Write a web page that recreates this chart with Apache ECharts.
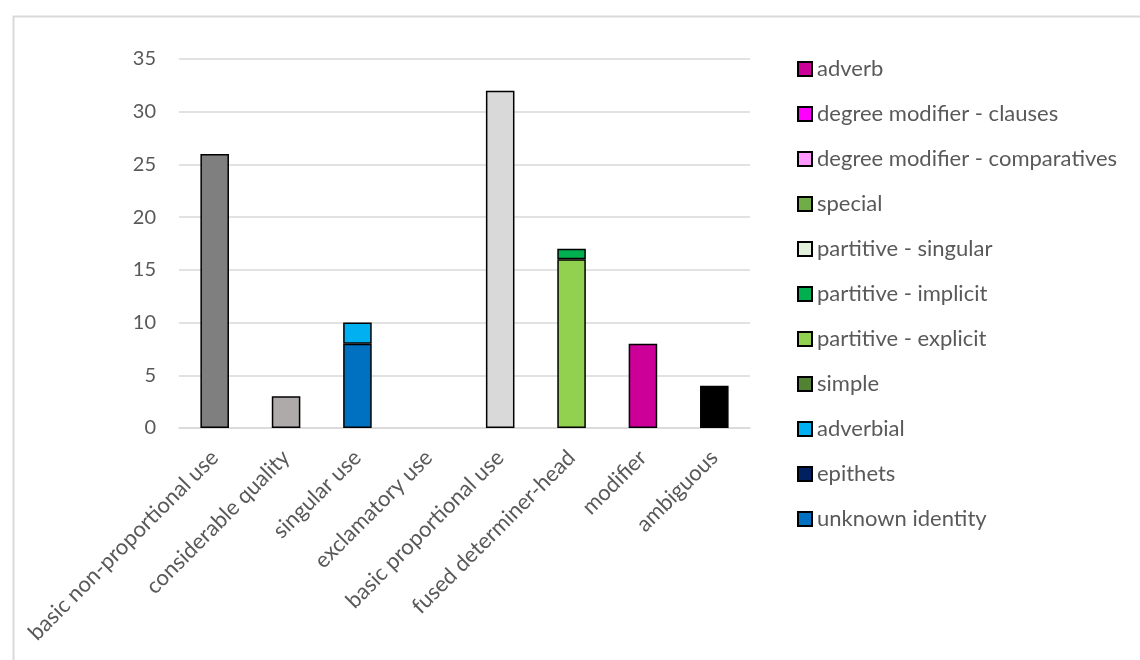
<!DOCTYPE html>
<html>
<head>
<meta charset="utf-8">
<script src="https://cdn.jsdelivr.net/npm/echarts@6/dist/echarts.min.js"></script>
<style>
html,body{margin:0;padding:0;background:#fff;}
#c{width:1140px;height:660px;}
</style>
</head>
<body>
<div id="c"></div>
<script>
var categories = ['basic non-proportional use','considerable quality','singular use','exclamatory use','basic proportional use','fused determiner-head','modifier','ambiguous'];
var yTicks = [0,5,10,15,20,25,30,35];

// legend series (bottom of stack first)
var unknownIdentity      = [null,null,8,null,null,null,null,null];
var epithets             = [null,null,null,null,null,null,null,null];
var adverbial            = [null,null,2,null,null,null,null,null];
var simple               = [null,null,null,null,null,null,null,null];
var partitiveExplicit    = [null,null,null,null,null,16,null,null];
var partitiveImplicit    = [null,null,null,null,null,1,null,null];
var partitiveSingular    = [null,null,null,null,null,null,null,null];
var special              = [null,null,null,null,null,null,null,null];
var degreeComparatives   = [null,null,null,null,null,null,null,null];
var degreeClauses        = [null,null,null,null,null,null,null,null];
var adverb               = [null,null,null,null,null,null,8,null];

// series not shown in legend
var basicNonProportional = [26,null,null,null,null,null,null,null];
var considerableQuality  = [null,3,null,null,null,null,null,null];
var basicProportional    = [null,null,null,null,32,null,null,null];
var ambiguous            = [null,null,null,null,null,null,null,4];

var stackSeries = [
  ['unknown identity', unknownIdentity, '#0070C0'],
  ['epithets', epithets, '#002060'],
  ['adverbial', adverbial, '#00B0F0'],
  ['simple', simple, '#548235'],
  ['partitive - explicit', partitiveExplicit, '#92D050'],
  ['partitive - implicit', partitiveImplicit, '#00B050'],
  ['partitive - singular', partitiveSingular, '#E2EFDA'],
  ['special', special, '#70AD47'],
  ['degree modifier - comparatives', degreeComparatives, '#FF99FF'],
  ['degree modifier - clauses', degreeClauses, '#FF00FF'],
  ['adverb', adverb, '#CC0099'],
  ['basic non-proportional', basicNonProportional, '#7F7F7F'],
  ['considerable', considerableQuality, '#AEAAAA'],
  ['basic proportional', basicProportional, '#D9D9D9'],
  ['ambiguous uses', ambiguous, '#000000']
];
var legendNames = ['adverb','degree modifier - clauses','degree modifier - comparatives','special','partitive - singular','partitive - implicit','partitive - explicit','simple','adverbial','epithets','unknown identity'];

var FONT = 'Lato';
var series = stackSeries.map(function(s){
  return {
    name: s[0], type: 'bar', stack: 'total', data: s[1],
    barWidth: '40%',
    itemStyle: {color: s[2], borderColor: '#000', borderWidth: 1.5},
    emphasis: {disabled: true}
  };
});

var chart = echarts.init(document.getElementById('c'), null, {renderer:'canvas'});
chart.setOption({
  animation: false,
  backgroundColor: '#fff',
  graphic: [{
    type: 'rect', left: 11, top: 14,
    shape: {width: 1200, height: 700},
    style: {fill: 'none', stroke: '#D9D9D9', lineWidth: 2},
    silent: true
  }],
  grid: {left: 179, right: 390, top: 59, bottom: 232, containLabel: false},
  legend: {
    orient: 'vertical', left: 792, top: 52,
    data: legendNames,
    itemWidth: 14, itemHeight: 14, itemGap: 21,
    icon: 'rect',
    selectedMode: false,
    textStyle: {fontFamily: FONT, fontSize: 22, color: '#595959', lineHeight: 24}
  },
  xAxis: {
    type: 'category', data: categories,
    axisLine: {show: true, lineStyle: {color: '#D9D9D9', width: 1.5}},
    axisTick: {show: false},
    axisLabel: {rotate: 45, interval: 0, margin: 26, fontFamily: FONT, fontSize: 22, color: '#595959'}
  },
  yAxis: {
    type: 'value', min: 0, max: 35, interval: 5,
    axisLine: {show: false}, axisTick: {show: false},
    splitLine: {lineStyle: {color: '#D9D9D9', width: 1.5}},
    axisLabel: {margin: 23, fontFamily: FONT, fontSize: 20, color: '#595959',
      formatter: function(v){ return yTicks.indexOf(v) >= 0 ? String(v) : ''; }}
  },
  series: series
});
</script>
</body>
</html>
